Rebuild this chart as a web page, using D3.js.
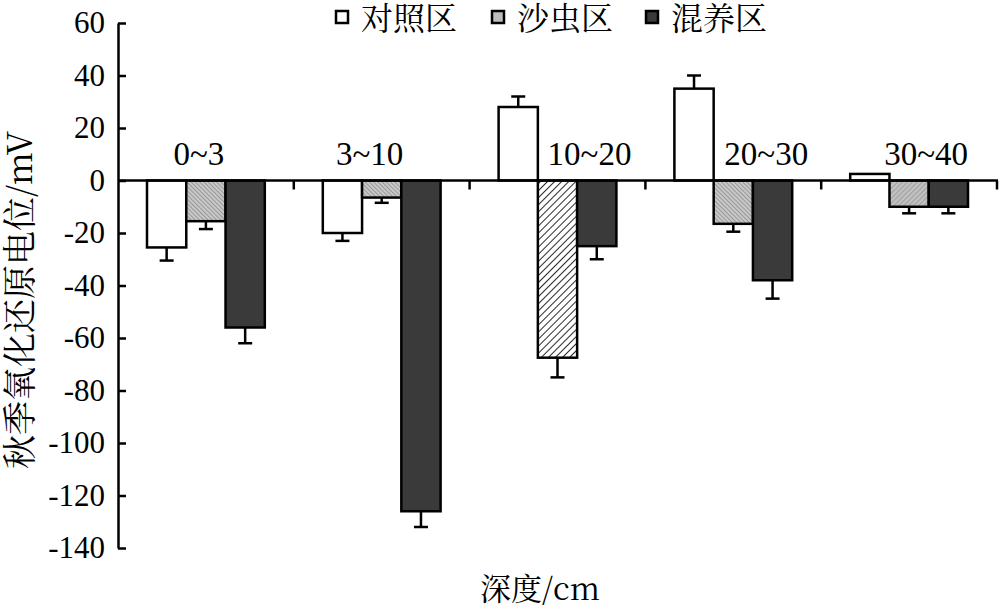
<!DOCTYPE html>
<html><head><meta charset="utf-8">
<script src="https://cdn.jsdelivr.net/npm/d3@7"></script>
<style>body{margin:0;background:#fff}svg{display:block}</style>
</head><body>
<svg id="c" width="1000" height="611"></svg>
<script>
const categories = ["0~3","3~10","10~20","20~30","30~40"];
const seriesNames = ["对照区","沙虫区","混养区"];
const control = [-25.5, -20, 28, 35, 2.5];
const controlErr = [5, 3, 4, 5, 0];
const worm = [-15.5, -6.5, -67.5, -16.5, -10];
const wormErr = [3, 2, 7.5, 3, 2.5];
const mixed = [-56, -126, -25, -38, -10];
const mixedErr = [6, 6, 5, 7, 2.5];
const yTicks = [60,40,20,0,-20,-40,-60,-80,-100,-120,-140];
const yTitle = "秋季氧化还原电位/mV";
const xTitle = "深度/cm";

// layout
const labelOffsets = [-7, -12, 32, 33, 17];
const wormPattern = ["hatchA","hatchA","hatchB","hatchA","hatchC"];
const SERIF = '"Liberation Serif"';
const CJK = '"Noto Serif CJK SC"';

const svg = d3.select("#c");
const L = 118, R = 997, T = 23, B = 548;
const y = d3.scaleLinear().domain([-140, 60]).range([B, T]);
const x = d3.scaleBand().domain(categories).range([L, R]).paddingInner(0).paddingOuter(0);
const xs = d3.scaleBand().domain(seriesNames).range([29, x.bandwidth() - 29]).padding(0);

const defs = svg.append("defs");
function hatch(id, bg, line, w, angle, spacing){
  const p = defs.append("pattern").attr("id", id).attr("patternUnits","userSpaceOnUse")
    .attr("width", spacing).attr("height", spacing).attr("patternTransform", `rotate(${angle})`);
  p.append("rect").attr("width", spacing).attr("height", spacing).attr("fill", bg);
  p.append("line").attr("x1",0).attr("y1",0).attr("x2",0).attr("y2",spacing)
    .attr("stroke", line).attr("stroke-width", w);
}
hatch("hatchA", "#c8c8c8", "#7a7a7a", 1.2, -45, 3);
hatch("hatchB", "#ffffff", "#111111", 1.8, 45, 5);
hatch("hatchC", "#c0c0c0", "#8a8a8a", 1.2, 45, 3.5);

const y0 = y(0);
const series = [
  {name: seriesNames[0], vals: control, errs: controlErr, fill: () => "#ffffff"},
  {name: seriesNames[1], vals: worm, errs: wormErr, fill: i => `url(#${wormPattern[i]})`},
  {name: seriesNames[2], vals: mixed, errs: mixedErr, fill: () => "#3a3a3a"}
];

// error bars
series.forEach(s => {
  categories.forEach((c, i) => {
    const v = s.vals[i], e = s.errs[i];
    if (!e) return;
    const cx = x(c) + xs(s.name) + xs.bandwidth()/2;
    const end = v >= 0 ? v + e : v - e;
    svg.append("line").attr("x1", cx).attr("x2", cx).attr("y1", y(v)).attr("y2", y(end))
      .attr("stroke", "#000").attr("stroke-width", 2.5);
    svg.append("line").attr("x1", cx - 7).attr("x2", cx + 7).attr("y1", y(end)).attr("y2", y(end))
      .attr("stroke", "#000").attr("stroke-width", 2.5);
  });
});

// bars
series.forEach(s => {
  svg.append("g").selectAll("rect").data(categories).join("rect")
    .attr("x", c => x(c) + xs(s.name))
    .attr("width", xs.bandwidth())
    .attr("y", (c, i) => Math.min(y(s.vals[i]), y0))
    .attr("height", (c, i) => Math.abs(y(s.vals[i]) - y0))
    .attr("fill", (c, i) => s.fill(i))
    .attr("stroke", "#000").attr("stroke-width", 2.5);
});

// y axis
const yAxis = d3.axisLeft(y).tickValues(yTicks).tickSizeInner(-8).tickSizeOuter(0).tickPadding(13)
  .tickFormat(d => d < 0 ? "-" + Math.abs(d) : d);
const gy = svg.append("g").attr("transform", `translate(${L},0)`).call(yAxis);
gy.select(".domain").attr("stroke-width", 2.5);
gy.selectAll(".tick line").attr("stroke-width", 2.5);
gy.selectAll("text").style("font-family", SERIF).style("font-size", "31px").attr("fill","#000");

// x axis at zero
svg.append("line").attr("x1", L).attr("x2", R + 1).attr("y1", y0).attr("y2", y0)
  .attr("stroke", "#000").attr("stroke-width", 2.5);
const bounds = categories.map(c => x(c)).concat([x(categories[categories.length-1]) + x.bandwidth()]).slice(1);
svg.append("g").selectAll("line").data(bounds).join("line")
  .attr("x1", d => d).attr("x2", d => d).attr("y1", y0).attr("y2", y0 + 9)
  .attr("stroke", "#000").attr("stroke-width", 2.5);

// category labels
svg.append("g").selectAll("text").data(categories).join("text")
  .attr("x", (c, i) => x(c) + x.bandwidth()/2 + labelOffsets[i])
  .attr("y", y0 - 16)
  .attr("text-anchor", "middle")
  .style("font-family", SERIF).style("font-size", "33px")
  .text(c => c);

// axis titles
svg.append("text").attr("transform", `translate(32,300) rotate(-90)`)
  .attr("text-anchor", "middle").style("font-family", CJK).style("font-size", "34px").text(yTitle);
svg.append("text").attr("x", 540).attr("y", 600).attr("text-anchor", "middle")
  .style("font-family", CJK).style("font-size", "31px").text(xTitle);

// legend
const legendX = [336, 492, 646];
const legendFills = ["#ffffff", "#bdbdbd", "#3a3a3a"];
const lg = svg.append("g");
seriesNames.forEach((n, i) => {
  lg.append("rect").attr("x", legendX[i]).attr("y", 11).attr("width", 12).attr("height", 12)
    .attr("fill", legendFills[i]).attr("stroke", "#000").attr("stroke-width", 2.5);
  lg.append("text").attr("x", legendX[i] + 25).attr("y", 30)
    .style("font-family", CJK).style("font-size", "32px").text(n);
});
</script>
</body></html>
